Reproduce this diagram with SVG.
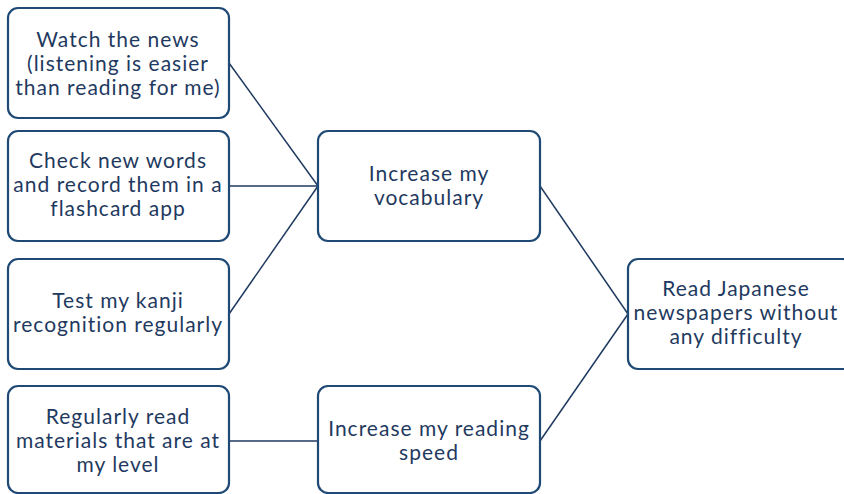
<svg xmlns="http://www.w3.org/2000/svg" width="844" height="494" viewBox="0 0 844 494">
<style>
.box{fill:#fff;stroke:#1F4A75;stroke-width:2.2}
.t{font-family:"Lato","Noto Sans",sans-serif;font-size:21px;letter-spacing:1px;fill:#1F3A60;text-anchor:middle}
.c{stroke:#1F3A60;stroke-width:1.5;fill:none}
</style>
<rect width="844" height="494" fill="#fff"/>
<g id="connectors">
<line class="c" x1="229" y1="63" x2="318" y2="186"/>
<line class="c" x1="229" y1="186" x2="318" y2="186"/>
<line class="c" x1="229" y1="314" x2="318" y2="186"/>
<line class="c" x1="229" y1="441" x2="318" y2="441"/>
<line class="c" x1="540" y1="186" x2="628" y2="314"/>
<line class="c" x1="540" y1="441" x2="628" y2="314"/>
</g>
<g id="n1"><rect class="box" x="8" y="8" width="221" height="110" rx="10"/>
<text class="t" x="118" y="47">Watch the news</text><text class="t" x="118" y="71">(listening is easier</text><text class="t" x="118" y="95">than reading for me)</text></g>
<g id="n2"><rect class="box" x="8" y="131" width="221" height="110" rx="10"/>
<text class="t" x="118" y="168">Check new words</text><text class="t" x="118" y="192">and record them in a</text><text class="t" x="118" y="216">flashcard app</text></g>
<g id="n3"><rect class="box" x="8" y="259" width="221" height="110" rx="10"/>
<text class="t" x="118" y="308">Test my kanji</text><text class="t" x="118" y="332">recognition regularly</text></g>
<g id="n4"><rect class="box" x="8" y="386" width="221" height="107" rx="10"/>
<text class="t" x="118" y="424">Regularly read</text><text class="t" x="118" y="448">materials that are at</text><text class="t" x="118" y="472">my level</text></g>
<g id="m1"><rect class="box" x="318" y="131" width="222" height="110" rx="10"/>
<text class="t" x="429" y="181">Increase my</text><text class="t" x="429" y="205">vocabulary</text></g>
<g id="m2"><rect class="box" x="318" y="386" width="222" height="107" rx="10"/>
<text class="t" x="429" y="436">Increase my reading</text><text class="t" x="429" y="460">speed</text></g>
<g id="r1"><rect class="box" x="628" y="259" width="225" height="110" rx="10"/>
<text class="t" x="736" y="296">Read Japanese</text><text class="t" x="736" y="320">newspapers without</text><text class="t" x="736" y="344">any difficulty</text></g>
</svg>
